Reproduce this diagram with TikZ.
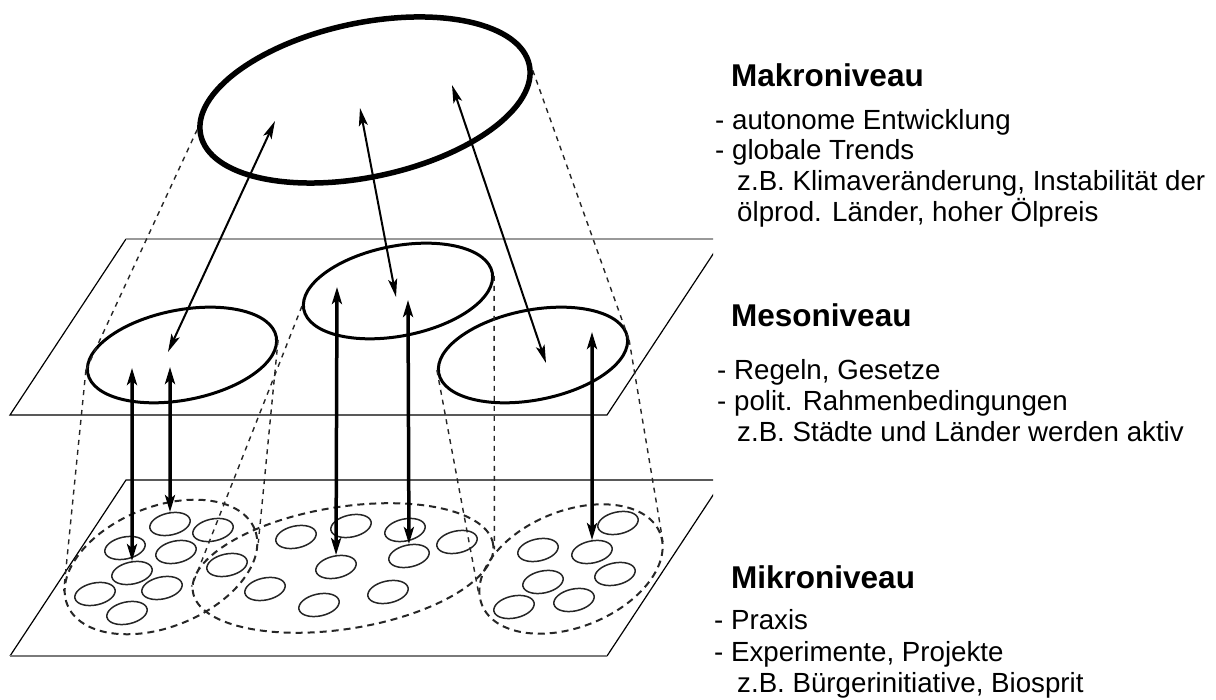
\documentclass[tikz,border=0pt]{standalone}
\usepackage{fontspec}
\setmainfont{Liberation Sans}
\usepackage{tikz}
\definecolor{planeedge}{rgb}{0.6,0.6,0.6}
\definecolor{cellline}{rgb}{0.15,0.15,0.15}
\usetikzlibrary{shapes.geometric}
\usetikzlibrary{arrows.meta}

\begin{document}
\begin{tikzpicture}[x=1pt, y=1pt,
    level/.style={draw, ellipse, inner sep=0pt, rotate=11, minimum width=192pt, minimum height=90pt, line width=3pt},
    group/.style={draw=cellline, ellipse, inner sep=0pt, dash pattern=on 7pt off 5pt, line width=2pt},
    cell/.style={draw=cellline, ellipse, inner sep=0pt, rotate=12, minimum width=41pt, minimum height=22pt, line width=1.5pt},
    cone/.style={draw=cellline, dash pattern=on 5pt off 5pt, line width=1.4pt},
    link/.style={<->, >={Stealth[length=18pt,width=9pt,inset=4pt]}, line width=2pt},
    tie/.style={<->, >={Stealth[length=17pt,width=10pt,inset=4pt]}, line width=3.5pt},
    head/.style={anchor=base west, inner sep=0pt, font=\fontsize{31.5}{36}\selectfont\bfseries},
    item/.style={anchor=base west, inner sep=0pt, font=\fontsize{27.7}{31}\selectfont}]

    \useasboundingbox (0,0) rectangle (1216,700);
    \fill[white] (0,0) rectangle (1216,700);

    % the two planes
    \begin{scope}
        \clip (0,0) rectangle (713,700);
        \draw[line width=1.2pt] (723,461) -- (607,285) -- (10,285) -- (126,461);
        \draw[planeedge, line width=2.5pt] (126,461) -- (723,461);
        \draw[line width=1.2pt] (10,44) -- (126,220) -- (723,220) -- (607,44);
        \draw[planeedge!80!black, line width=2pt] (10,44) -- (607,44);
    \end{scope}

    % levels
    \node[ellipse, draw, inner sep=0pt, rotate=12, minimum width=336pt, minimum height=154pt, line width=5.5pt] (makro) at (365,600) {};
    \node[level] (mesoL) at (182,345) {};
    \node[level] (mesoM) at (398,409) {};
    \node[level] (mesoR) at (533,345) {};

    \node[group, rotate=22, minimum width=202pt, minimum height=120pt] (microL) at (161,133) {};
    \node[group, rotate=9, minimum width=304pt, minimum height=122pt] (microM) at (343,132) {};
    \node[group, rotate=22, minimum width=192pt, minimum height=116pt] (microR) at (571,131) {};

    % single actors
    \foreach \cx/\cy [count=\i] in {170/176, 213/170, 125/152, 176/148, 132/127, 95/106, 162/112, 127/87, 227/135,
        296/163, 351/174, 405/170, 457/158, 409/144, 336/133, 265/111, 388/108, 319/95,
        618/177, 538/150, 592/148, 615/126, 543/118, 574/100, 514/93}
        \node[cell] (cell\i) at (\cx,\cy) {};

    % cones
    \draw[cone] (makro.178) -- (mesoL.178);
    \draw[cone] (makro.358) -- (mesoR.358);
    \draw[cone] (mesoL.178) -- (microL.172);
    \draw[cone] (mesoL.358) -- (microL.352);
    \draw[cone] (mesoM.178) -- (microM.178);
    \draw[cone] (mesoM.358) -- (microM.358);
    \draw[cone] (mesoR.178) -- (microR.172);
    \draw[cone] (mesoR.358) -- (microR.352);

    % arrow ends
    \coordinate (mk1) at (275,579);
    \coordinate (mk2) at (360,592);
    \coordinate (mk3) at (452,615);
    \coordinate (ms1) at (168,348);
    \coordinate (ms2) at (396,403);
    \coordinate (ms3) at (546,337);
    \coordinate (up1) at (132,332);
    \coordinate (up2) at (170,333);
    \coordinate (up3) at (337,413);
    \coordinate (up4) at (408,400);
    \coordinate (up5) at (592,368);

    \draw[link] (mk1) -- (ms1);
    \draw[link] (mk2) -- (ms2);
    \draw[link] (mk3) -- (ms3);
    \draw[tie] (up1) -- (cell5);
    \draw[tie] (up2) -- (cell1);
    \draw[tie] (up3) -- (cell15);
    \draw[tie] (up4) -- (cell14);
    \draw[tie] (up5) -- (cell21);

    % legend
    \node[head] (makroHead) at (731,613) {Makroniveau};
    \node[item] (makroA) at (715,570) {- autonome Entwicklung};
    \node[item] (makroB) at (715,540) {- globale Trends};
    \node[item] (makroC) at (737,509) {z.B. Klimaveränderung, Instabilität der};
    \node[item] (makroD) at (737,478) {ölprod. Länder, hoher Ölpreis};

    \node[head] (mesoHead) at (731,373) {Mesoniveau};
    \node[item] (mesoA) at (717,320) {- Regeln, Gesetze};
    \node[item] (mesoB) at (717,289) {- polit. Rahmenbedingungen};
    \node[item] (mesoC) at (737,258) {z.B. Städte und Länder werden aktiv};

    \node[head] (mikroHead) at (731,111) {Mikroniveau};
    \node[item] (mikroA) at (714,70) {- Praxis};
    \node[item] (mikroB) at (714,38) {- Experimente, Projekte};
    \node[item] (mikroC) at (737,7) {z.B. Bürgerinitiative, Biosprit};

\end{tikzpicture}
\end{document}
